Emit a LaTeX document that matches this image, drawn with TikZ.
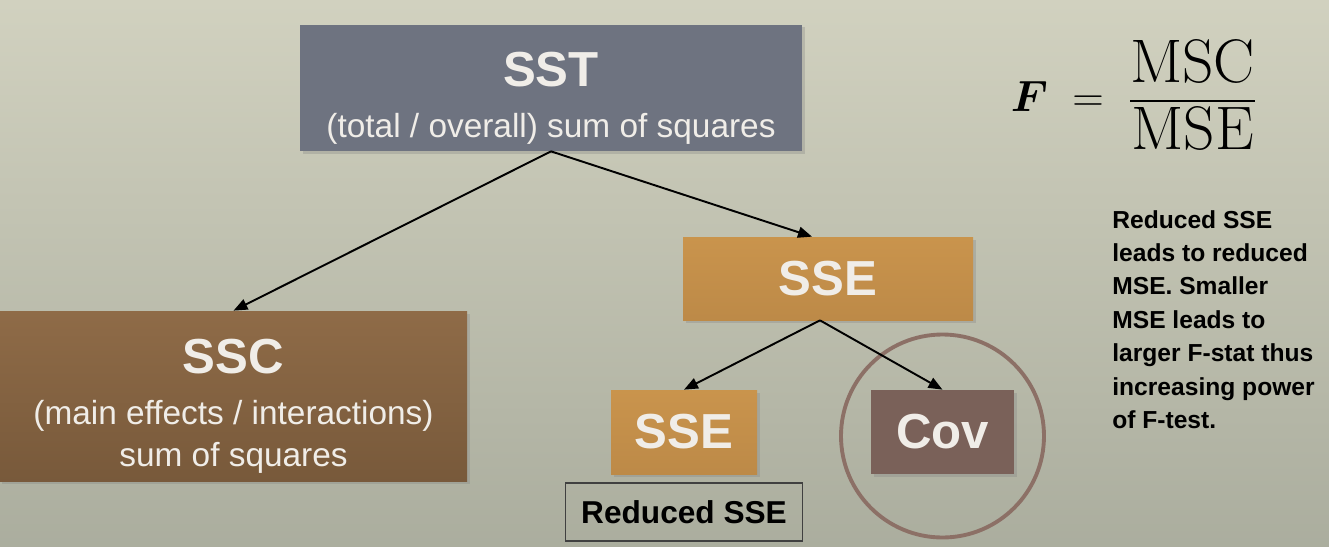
\documentclass[tikz,border=0pt]{standalone}
\usepackage{amsmath}
\usepackage{fontspec}
\setsansfont{Liberation Sans}
\usetikzlibrary{arrows.meta, positioning, shadows}
\definecolor{bgtop}{rgb}{0.82, 0.82, 0.75}
\definecolor{bgbottom}{rgb}{0.67, 0.68, 0.62}
\definecolor{slate}{rgb}{0.43, 0.45, 0.50}
\definecolor{ochre}{rgb}{0.79, 0.58, 0.30}
\definecolor{ochredark}{rgb}{0.74, 0.54, 0.28}
\definecolor{browntop}{rgb}{0.56, 0.42, 0.28}
\definecolor{brownbot}{rgb}{0.47, 0.35, 0.23}
\definecolor{covbrown}{rgb}{0.48, 0.38, 0.35}
\definecolor{ring}{rgb}{0.55, 0.44, 0.40}
\definecolor{paper}{rgb}{0.94, 0.93, 0.91}
\tikzstyle{box} = [rectangle,inner sep=0pt,text=paper,font=\sffamily\fontsize{19}{22}\selectfont,align=center,drop shadow={opacity=0.3,shadow xshift=0.05cm,shadow yshift=-0.05cm}]
\tikzstyle{big} = [font=\sffamily\bfseries\fontsize{28}{30}\selectfont]
\tikzstyle{arrow} = [-{Triangle[length=0.28cm,width=0.22cm]},line width=1.1pt]

\begin{document}
\begin{tikzpicture}[node distance=1cm]

	\shade[top color=bgtop,bottom color=bgbottom] (0,0) rectangle (26.58,-10.94);
	\useasboundingbox (0,0) rectangle (26.58,-10.94);

	\node[box,fill=slate,minimum width=10.04cm,minimum height=2.52cm](sst) at (11.02,-1.76)
		{\rule{0pt}{1.1cm}{\bfseries\fontsize{28}{30}\selectfont SST}\\[0.25cm](total / overall) sum of squares};
	\node[box,big,top color=ochre,bottom color=ochredark,minimum width=5.8cm,minimum height=1.66cm,below of=sst,xshift=5.54cm,yshift=-2.81cm](sse){SSE};
	\node[box,top color=browntop,bottom color=brownbot,minimum width=9.34cm,minimum height=3.4cm,below of=sst,xshift=-6.35cm,yshift=-5.16cm](ssc)
		{\rule{0pt}{1.1cm}{\bfseries\fontsize{28}{30}\selectfont SSC}\\[0.25cm](main effects / interactions)\\[0.06cm]sum of squares};
	\node[box,big,top color=ochre,bottom color=ochredark,minimum width=2.92cm,minimum height=1.68cm,below of=sse,xshift=-2.88cm,yshift=-2.07cm](sse2){SSE};
	\node[box,big,fill=covbrown,minimum width=2.86cm,minimum height=1.68cm,below of=sse,xshift=2.29cm,yshift=-2.07cm](cov){Cov};
	\node[draw=black!75,line width=0.8pt,minimum width=4.74cm,minimum height=1.16cm,inner sep=0pt,font=\sffamily\bfseries\fontsize{18}{20}\selectfont,below of=sse2,yshift=-0.6cm](reduced){Reduced SSE};
	\node[circle,draw=ring,line width=2.2pt,minimum size=4.06cm,inner sep=0pt](covring) at ([yshift=-0.08cm]cov.center){};

	% F ratio and note
	\node(ftest) at (22.68,-1.9){\fontsize{35}{38}\selectfont$\boldsymbol{F}\;=\;\dfrac{\mathrm{MSC}}{\mathrm{MSE}}$};
	\node[anchor=north west,inner sep=0pt,align=left,font=\sffamily\bfseries\fontsize{14}{19}\selectfont](note) at (22.24,-4.2)
		{Reduced SSE\\leads to reduced\\MSE. Smaller\\MSE leads to\\larger F-stat thus\\increasing power\\of F-test.};

	\draw[arrow] (sst.south) -- (ssc.north);
	\draw[arrow] (sst.south) -- ([xshift=-0.32cm]sse.north);
	\draw[arrow] ([xshift=-0.16cm]sse.south) -- (sse2.north);
	\draw[arrow] ([xshift=-0.16cm]sse.south) -- (cov.north);

\end{tikzpicture}
\end{document}
